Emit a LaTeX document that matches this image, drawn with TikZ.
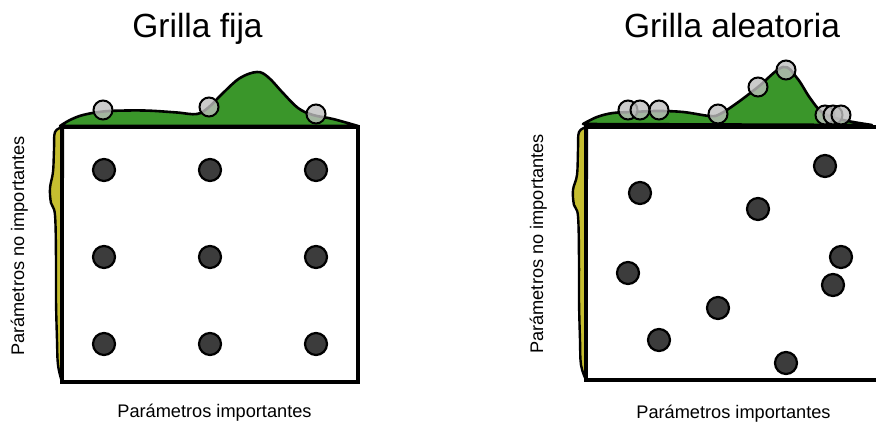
\documentclass[tikz,border=0pt]{standalone}
\usepackage{fontspec}
\setmainfont{Liberation Sans}
\definecolor{grn}{RGB}{58,150,42}
\definecolor{ylw}{RGB}{198,190,48}
\definecolor{dotc}{RGB}{60,60,60}
\definecolor{cir}{RGB}{190,190,190}
\tikzset{
  frame/.style={line width=3.5pt},
  hill/.style={fill=grn, draw=black, line width=2.6pt, line join=round},
  side/.style={fill=ylw, draw=black, line width=2.4pt, line join=round},
  dotn/.style={circle, draw=black, fill=dotc, line width=2.2pt, minimum size=22pt, inner sep=0pt},
  probe/.style={circle, draw=black, fill=cir, fill opacity=0.8, line width=2pt, minimum size=19pt, inner sep=0pt},
  ttl/.style={font=\fontsize{33.5}{38}\selectfont, anchor=base},
  lbl/.style={font=\fontsize{18.2}{21}\selectfont, anchor=base}
}
\begin{document}
\begin{tikzpicture}[x=1pt,y=-1pt]
\useasboundingbox (0,0) rectangle (876,423);
\clip (0,0) rectangle (876,423);

% ---------- left panel ----------
\draw[hill] plot[smooth, tension=0.6] coordinates {(60,126) (70,120) (83,115) (103,111.5) (127,110.5) (150,110.7) (177,112.5) (197,114) (209,107) (223,93) (240,78) (257,72) (268,77) (283,93) (298,108) (313,115) (333,119) (358,126)} -- cycle;
\draw[side] plot[smooth, tension=0.6] coordinates {(63,127) (55,132) (54,150) (53,172) (50,188) (51,203) (55,215) (56,260) (56,300) (57,340) (58,365) (62,382)} -- cycle;
\draw[frame] (62,127) rectangle (358,382);

\foreach \i/\x in {1/104,2/210,3/316}{
  \foreach \j/\y in {1/170,2/257,3/344}{
    \node[dotn] (g\i\j) at (\x,\y) {};
  }
}
\node[probe] (lp1) at (103,110) {};
\node[probe] (lp2) at (209,107) {};
\node[probe] (lp3) at (316,114) {};

\node[ttl] (t1) at (197.5,37) {Grilla fija};
\node[lbl] (x1) at (214.5,417) {Parámetros importantes};
\node[lbl, rotate=90] (y1) at (24,246) {Parámetros no importantes};

% ---------- right panel ----------
\draw[hill] plot[smooth, tension=0.6] coordinates {(583,124) (597,117) (613,113) (633,112) (657,111) (683,112) (710,116) (720,114) (737,103) (758,87) (783,67) (797,78) (810,98) (823,113) (843,120) (872,125)} -- cycle;
\draw[side] plot[smooth, tension=0.6] coordinates {(587,127) (579,132) (578,150) (577,175) (573,190) (574,205) (578,216) (579,260) (579,300) (580,340) (581,365) (586,380)} -- cycle;
\draw[frame] (586,127) rectangle (900,380);

\node[dotn] (r1) at (628,273) {};
\node[dotn] (r2) at (640,193) {};
\node[dotn] (r3) at (659,340) {};
\node[dotn] (r4) at (718,308) {};
\node[dotn] (r5) at (758,209) {};
\node[dotn] (r6) at (786,363) {};
\node[dotn] (r7) at (825,166) {};
\node[dotn] (r8) at (833,285) {};
\node[dotn] (r9) at (841,257) {};

\node[probe] (rp1) at (628,110) {};
\node[probe] (rp2) at (640,110) {};
\node[probe] (rp3) at (659,110) {};
\node[probe] (rp4) at (718,114) {};
\node[probe] (rp5) at (758,87) {};
\node[probe] (rp6) at (786,70) {};
\node[probe] (rp7) at (825,115) {};
\node[probe] (rp8) at (833,115) {};
\node[probe] (rp9) at (841,115) {};

\node[ttl] (t2) at (732,37) {Grilla aleatoria};
\node[lbl] (x2) at (733.5,418) {Parámetros importantes};
\node[lbl, rotate=90] (y2) at (543,244) {Parámetros no importantes};
\end{tikzpicture}
\end{document}
